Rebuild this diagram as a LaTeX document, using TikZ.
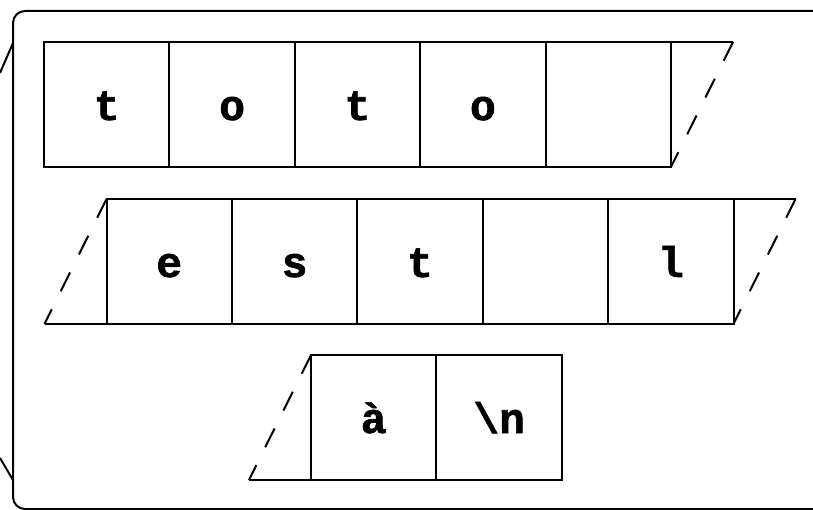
\documentclass[tikz,border=0pt]{standalone}
\usepackage{fontspec}
\setmonofont{Liberation Mono}[BoldFeatures={FakeBold=1.5}]
\begin{document}
\begin{tikzpicture}[x=1pt,y=-1pt, line width=2pt,
  cell/.style={draw, minimum width=125.4pt, minimum height=125pt, inner sep=0pt, outer sep=0pt,
    text height=31pt, text depth=0pt, font=\fontsize{43}{43}\selectfont\ttfamily\bfseries},
  dashedge/.style={dash pattern=on 21pt off 20pt}]
\useasboundingbox (0,0) rectangle (813,510);
\clip (0,0) rectangle (813,510);
% frame
\draw[rounded corners=12pt] (13,11) rectangle (850,509);
\coordinate (fa) at (13,43);
\coordinate (fb) at (0,73);
\coordinate (fc) at (0,458);
\coordinate (fd) at (13,480);
\draw (fa) -- (fb);
\draw (fc) -- (fd);
% row 1
\node[cell] (a1) at (106.7,104.5) {t};
\node[cell] (a2) at (232.1,104.5) {o};
\node[cell] (a3) at (357.5,104.5) {t};
\node[cell] (a4) at (482.9,104.5) {o};
\node[cell] (a5) at (608.3,104.5) {};
\draw (a5.north east) -- ++(62,0) coordinate (a5t);
\draw[dashedge] (a5t) -- (a5.south east);
% row 2
\node[cell] (b1) at (169.2,261.5) {e};
\node[cell] (b2) at (294.6,261.5) {s};
\node[cell] (b3) at (420.0,261.5) {t};
\node[cell] (b4) at (545.4,261.5) {};
\node[cell] (b5) at (670.8,261.5) {l};
\draw (b1.south west) -- ++(-62,0) coordinate (b1b);
\draw[dashedge] (b1.north west) -- (b1b);
\draw (b5.north east) -- ++(62,0) coordinate (b5t);
\draw[dashedge] (b5t) -- (b5.south east);
% row 3
\node[cell] (c1) at (373.7,417.5) {à};
\node[cell] (c2) at (499.1,417.5) {\textbackslash n};
\draw (c1.south west) -- ++(-62,0) coordinate (c1b);
\draw[dashedge] (c1.north west) -- (c1b);
\end{tikzpicture}
\end{document}
